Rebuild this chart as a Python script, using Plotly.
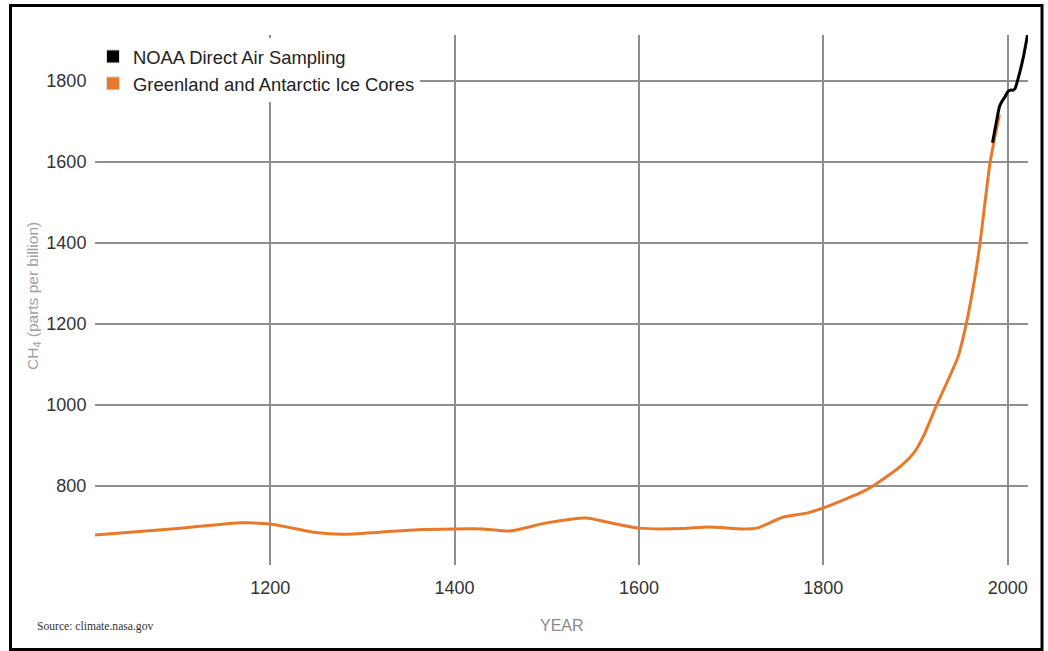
import plotly.graph_objects as go

# Greenland and Antarctic ice cores (year, CH4 ppb)
ice_years = [1009, 1048, 1103, 1140, 1167, 1200, 1247, 1279, 1319, 1360, 1399, 1430, 1460,
             1500, 1543, 1565, 1600, 1648, 1675, 1713, 1728, 1756, 1782, 1800, 1840, 1854,
             1883, 1899, 1910, 1923, 1946, 1955, 1964, 1970, 1981, 1991]
ice_ch4 = [679, 686, 696, 704, 709, 706, 686, 681, 686, 692, 694, 694, 689,
           709, 721, 711, 696, 695, 699, 694, 696, 723, 733, 746, 783, 800,
           847, 884, 930, 1000, 1118, 1200, 1309, 1400, 1600, 1716]

# NOAA direct air sampling
noaa_years = [1983.5, 1987, 1991, 1994, 1997, 2000, 2003, 2006, 2008, 2010, 2013, 2017, 2021.5]
noaa_ch4 = [1647, 1690, 1736, 1750, 1760, 1773, 1777, 1777, 1781, 1795, 1820, 1859, 1913]

x_ticks = [1200, 1400, 1600, 1800, 2000]
y_ticks = [800, 1000, 1200, 1400, 1600, 1800]

ORANGE = "#E8792A"
GRID = "#8f8f8f"

fig = go.Figure()
fig.add_trace(go.Scatter(x=ice_years, y=ice_ch4, mode="lines",
                         line=dict(color=ORANGE, width=3, shape="spline", smoothing=0.6),
                         showlegend=False, hoverinfo="skip"))
fig.add_trace(go.Scatter(x=noaa_years, y=noaa_ch4, mode="lines",
                         line=dict(color="black", width=3, shape="spline", smoothing=0.4),
                         showlegend=False, hoverinfo="skip"))
# legend entries with square swatches
fig.add_trace(go.Scatter(x=[None], y=[None], mode="markers", name="NOAA Direct Air Sampling",
                         marker=dict(symbol="square", size=13, color="black",
                                     line=dict(color="#dddddd", width=1))))
fig.add_trace(go.Scatter(x=[None], y=[None], mode="markers", name="Greenland and Antarctic Ice Cores",
                         marker=dict(symbol="square", size=13, color=ORANGE,
                                     line=dict(color="#dddddd", width=1))))

L, R, T, B = 95, 20, 35, 86
W, H = 1048, 651
pw, ph = W - L - R, H - T - B

def px(x):
    return (x - L) / pw

def py(y):
    return 1 - (y - T) / ph

fig.update_layout(
    width=W, height=H,
    margin=dict(l=L, r=R, t=T, b=B),
    paper_bgcolor="white", plot_bgcolor="white",
    font=dict(family="Liberation Sans, Arial, sans-serif", color="#333333", size=18),
    showlegend=True,
    legend=dict(x=px(93), y=py(38), xanchor="left", yanchor="top",
                bgcolor="white", font=dict(size=18.4, color="#222222"),
                traceorder="normal"),
    xaxis=dict(range=[1010, 2022], tickvals=x_ticks, showgrid=True, gridcolor=GRID,
               gridwidth=1.5, zeroline=False, showline=False, ticks="outside",
               ticklen=6, tickcolor="rgba(0,0,0,0)"),
    yaxis=dict(range=[605, 1913], tickvals=y_ticks, showgrid=True, gridcolor=GRID,
               gridwidth=1.5, zeroline=False, showline=False, ticks="outside",
               ticklen=4, tickcolor="rgba(0,0,0,0)"),
    annotations=[
        dict(text="CH<sub>4</sub> (parts per billion)", textangle=-90, x=px(33), y=py(296),
             xref="paper", yref="paper", xanchor="center", yanchor="middle", showarrow=False,
             font=dict(size=15.5, color="#a0a0a0")),
        dict(text="YEAR", x=0.5, y=py(625), xref="paper", yref="paper", showarrow=False,
             xanchor="center", yanchor="middle",
             font=dict(size=16, color="#8a8a8a")),
        dict(text="Source: climate.nasa.gov", x=px(35), y=py(626), xref="paper", yref="paper",
             xanchor="left", yanchor="middle", showarrow=False,
             font=dict(family="Liberation Serif, Times New Roman, serif", size=11.6, color="#333333")),
    ],
    shapes=[dict(type="rect", xref="paper", yref="paper",
                 x0=px(10.5), x1=px(1042), y0=py(649.5), y1=py(5.5),
                 line=dict(color="black", width=3), fillcolor="rgba(0,0,0,0)", layer="above")],
)

fig.write_html("out.html", config={"displayModeBar": False},
               post_script="document.body.style.margin='0';document.body.style.padding='0';")
